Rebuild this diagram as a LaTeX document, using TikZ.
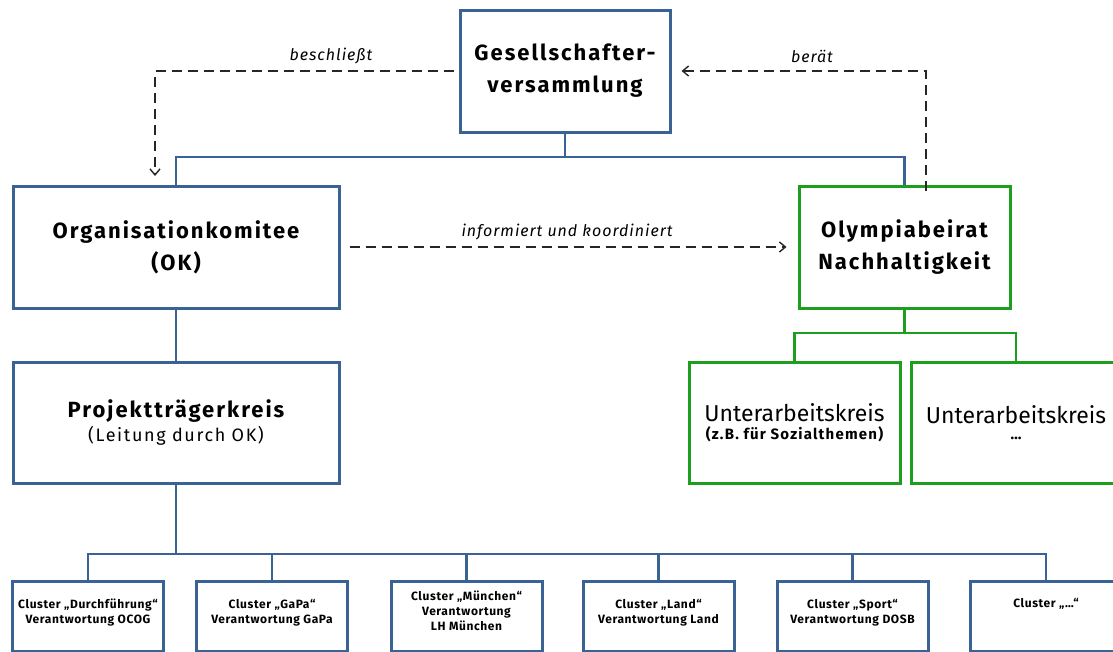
\documentclass[tikz,border=0pt]{standalone}
\usepackage{fontspec}
\setmainfont{Fira Sans}
\usetikzlibrary{arrows.meta}
\definecolor{boxblue}{HTML}{3A6395}
\definecolor{boxgreen}{HTML}{1E9E1E}
\newcommand{\bigfont}{\bfseries\fontsize{22}{32}\selectfont\addfontfeature{LetterSpace=9}}
\newcommand{\midfont}{\fontsize{23}{26}\selectfont}
\newcommand{\subfont}{\fontsize{18}{22}\selectfont\addfontfeature{LetterSpace=9}}
\newcommand{\subbfont}{\bfseries\fontsize{15}{18}\selectfont\addfontfeature{LetterSpace=8}}
\tikzset{
  bluebox/.style={draw=boxblue, line width=3pt, rectangle, align=center, inner sep=0pt},
  greenbox/.style={draw=boxgreen, line width=3pt, rectangle, align=center, inner sep=0pt},
  blueline/.style={draw=boxblue, line width=2.8pt},
  greenline/.style={draw=boxgreen, line width=2.8pt},
  dasharrow/.style={draw=black!85, line width=1.5pt, dash pattern=on 10pt off 6pt, -{Straight Barb[length=6pt,width=10pt,line width=1.4pt]}},
  lbl/.style={font=\itshape\fontsize{16}{18}\selectfont\addfontfeature{LetterSpace=6}, inner sep=0pt},
  big/.style={font=\bigfont},
  cl/.style={bluebox, minimum width=151pt, minimum height=70pt},
  cltext/.style={align=center, inner sep=0pt, font=\bfseries\fontsize{12}{15}\selectfont\addfontfeature{LetterSpace=5}},
}
\begin{document}
\begin{tikzpicture}[x=1pt,y=-1pt]
\useasboundingbox (0,0) rectangle (1113,651);
\clip (0,0) rectangle (1113,651);
% main boxes
\node[bluebox, minimum width=210pt, minimum height=122pt, big] (gv) at (565,71) {\rule{0pt}{12pt}Gesellschafter-\\versammlung};
\node[bluebox, minimum width=326pt, minimum height=122pt, big] (ok) at (176,247) {Organisationkomitee\\(OK)};
\node[greenbox, minimum width=211pt, minimum height=122pt, big] (ob) at (904.5,247) {Olympiabeirat\\Nachhaltigkeit};
\node[bluebox, minimum width=326pt, minimum height=121pt] (pk) at (176,422.5) {{\bigfont Projektträgerkreis}\\[2pt]{\subfont (Leitung durch OK)}};
\node[greenbox, minimum width=211pt, minimum height=121pt] (u1) at (794.5,422.5) {{\midfont Unterarbeitskreis}\\[4pt]{\subbfont (z.B. für Sozialthemen)}};
\node[greenbox, minimum width=210pt, minimum height=121pt] (u2) at (1016,422.5) {{\midfont Unterarbeitskreis}\\[4pt]{\subbfont …}};
% clusters
\node[cl] (c1) at (88,616) {};
\node[cl] (c2) at (272,616) {};
\node[cl] (c3) at (466.5,616) {};
\node[cl] (c4) at (658.5,616) {};
\node[cl] (c5) at (852.5,616) {};
\node[cl] (c6) at (1046,616) {};
\node[cltext] (t1) at ([yshift=3.5pt]c1.center) {Cluster „Durchführung“\\Verantwortung OCOG};
\node[cltext] (t2) at ([yshift=3.5pt]c2.center) {Cluster „GaPa“\\Verantwortung GaPa};
\node[cltext] (t3) at ([yshift=5pt]c3.center) {Cluster „München“\\Verantwortung\\LH München};
\node[cltext] (t4) at ([yshift=3.5pt]c4.center) {Cluster „Land“\\Verantwortung Land};
\node[cltext] (t5) at ([yshift=3.5pt]c5.center) {Cluster „Sport“\\Verantwortung DOSB};
\node[cltext] (t6) at ([yshift=12pt]c6.center) {Cluster „…“};
% tree connectors
\coordinate (tsplit) at (565,157);
\draw[blueline] (gv.south) -- (tsplit);
\draw[blueline] (ok.north) |- (tsplit) -| (ob.north);
\draw[blueline] (ok.south) -- (pk.north);
\coordinate (csplit) at (176,554);
\draw[blueline] (pk.south) -- (csplit);
\foreach \c in {c1,c2,c3,c4,c5,c6} {\draw[blueline] (csplit) -| (\c.north);}
\coordinate (usplit) at (904.5,333);
\draw[greenline] (ob.south) -- (usplit);
\draw[greenline] (u1.north) |- (usplit) -| (u2.north);
% dashed arrows
\coordinate (bk) at (155,71);
\coordinate (bt) at (155,176);
\draw[dasharrow] ([xshift=-5pt]gv.west) -- (bk) -- (bt);
\node[lbl] (lb) at (331,56) {beschließt};
\coordinate (rk) at (926,71);
\draw[dasharrow] ([yshift=-6pt]ob.north -| rk) -- (rk) -- ([xshift=10pt]gv.east);
\node[lbl] (lr) at (812,56) {berät};
\draw[dasharrow] ([xshift=9pt]ok.east) -- ([xshift=-11pt]ob.west);
\node[lbl] (li) at (567,232) {informiert und koordiniert};
\end{tikzpicture}
\end{document}
